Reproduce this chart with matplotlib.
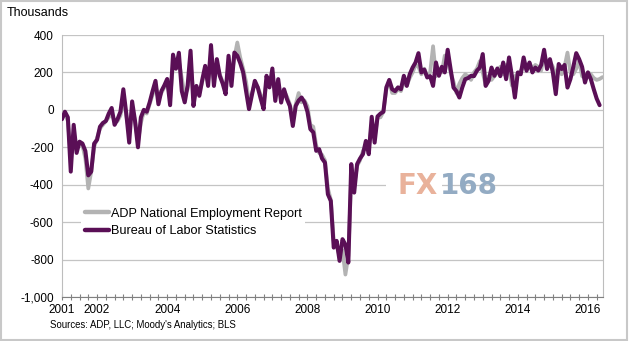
import numpy as np
import matplotlib
matplotlib.use("Agg")
import matplotlib.pyplot as plt
from matplotlib.patches import Rectangle
from matplotlib.ticker import FuncFormatter, MultipleLocator

plt.rcParams["font.family"] = ["Liberation Sans", "DejaVu Sans"]

# Monthly job changes (thousands), starting Jan 2001
bls = [
    -50, -10, -40, -330, -80, -230, -170, -180, -220, -350, -330, -180,
    -160, -90, -70, -60, -20, 10, -80, -50, -10, 110, -20, -175,
    45, -60, -200, -40, 0, -10, 40, 100, 155, 30, 100, 130,
    165, 25, 295, 220, 305, 100, 40, 130, 316, 21, 128, 75,
    160, 235, 128, 346, 128, 271, 182, 140, 84, 289, 128, 306,
    289, 250, 200, 100, 4, 80, 155, 120, 60, 4, 182, 120,
    221, 48, 164, 39, 110, 57, 20, -86, 21, 50, 66, 40,
    -10, -103, -120, -219, -210, -260, -282, -451, -487, -736, -700, -807,
    -691, -720, -816, -290, -442, -290, -260, -237, -166, -237, -37, -175,
    -35, -20, -10, 120, 160, 110, 100, 120, 110, 182, 128, 190,
    226, 253, 303, 200, 215, 173, 180, 128, 253, 182, 230, 200,
    321, 218, 119, 100, 66, 120, 164, 170, 182, 180, 209, 226,
    298, 128, 155, 226, 182, 221, 180, 253, 164, 280, 180, 66,
    200, 190, 280, 209, 253, 200, 226, 210, 240, 321, 218, 271,
    200, 84, 245, 218, 240, 119, 164, 230, 303, 271, 230, 146,
    200, 164, 110, 60, 25,
]
adp = [
    -40, -20, -60, -240, -130, -190, -180, -190, -260, -420, -330, -200,
    -150, -100, -80, -60, -40, -20, -60, -60, -30, 60, -30, -120,
    10, -60, -170, -70, -10, -20, 30, 80, 130, 60, 90, 120,
    150, 60, 240, 230, 260, 170, 80, 110, 250, 80, 120, 90,
    150, 210, 150, 300, 160, 240, 190, 150, 110, 240, 180, 280,
    360, 280, 220, 150, 40, 90, 140, 120, 80, 40, 150, 140,
    190, 90, 140, 70, 100, 70, 30, -40, 30, 90, 40, 50,
    20, -80, -90, -190, -230, -240, -270, -420, -480, -700, -730, -780,
    -750, -880, -780, -360, -400, -300, -270, -220, -190, -200, -80, -150,
    -40, -40, -10, 110, 150, 90, 90, 110, 100, 150, 130, 170,
    200, 240, 230, 190, 220, 180, 200, 340, 180, 220, 200, 290,
    260, 200, 150, 90, 140, 170, 190, 180, 160, 200, 220, 260,
    200, 130, 180, 160, 180, 200, 230, 190, 240, 220, 130, 180,
    190, 210, 230, 220, 250, 220, 240, 230, 210, 300, 240, 260,
    230, 190, 220, 190, 230, 306, 200, 190, 220, 260, 180, 170,
    200, 190, 170, 160, 165, 175,
]
year_labels = ["2001", "2002", "2004", "2006", "2008", "2010", "2012", "2014", "2016"]

x_bls = 2001 + np.arange(len(bls)) / 12
x_adp = 2001 + np.arange(len(adp)) / 12

fig = plt.figure(figsize=(6.3, 3.41), dpi=100)
ax = fig.add_axes([62 / 630, 1 - 297 / 341, 541 / 630, 262 / 341])

ax.plot(x_adp, adp, color="#b3b3b3", lw=2.7, label="ADP National Employment Report",
        solid_capstyle="round", solid_joinstyle="round", zorder=3)
ax.plot(x_bls, bls, color="#5a0f56", lw=2.9, label="Bureau of Labor Statistics",
        solid_capstyle="round", solid_joinstyle="round", zorder=4)

ax.set_xlim(2001, 2016.43)
ax.set_ylim(-1000, 400)
ax.yaxis.set_major_locator(MultipleLocator(200))
ax.yaxis.set_major_formatter(FuncFormatter(lambda v, p: f"{int(v):,}"))
ax.grid(axis="y", color="#c4c4c4", lw=0.9)
ax.set_axisbelow(True)

ax.set_xticks([float(y) for y in year_labels])
ax.set_xticklabels(year_labels)
ax.set_xticks(2001 + np.arange(0, 62) * 0.25, minor=True)
ax.tick_params(axis="x", which="both", direction="inout", length=4, width=0.8,
               color="#808080", labelsize=8.5, pad=3)
ax.tick_params(axis="y", length=0, labelsize=8.5, pad=6)

for side in ["left", "right"]:
    ax.spines[side].set_color("#bdbdbd")
ax.spines["top"].set_visible(False)
ax.spines["bottom"].set_color("#808080")

leg = ax.legend(loc="upper left", bbox_to_anchor=(81 / 630, 1 - 204 / 341),
                bbox_transform=fig.transFigure, fontsize=9.1, frameon=True,
                facecolor="white", edgecolor="none", framealpha=1,
                handlelength=1.9, handletextpad=0.15, borderpad=0.3,
                labelspacing=0.45, borderaxespad=0)
leg.set_zorder(5)
for h in leg.get_lines():
    h.set_linewidth(3.2)

fig.text(7 / 630, 1 - 13 / 341, "Thousands", fontsize=9, va="center", ha="left")
fig.text(50 / 630, 1 - 325 / 341, "Sources: ADP, LLC; Moody's Analytics; BLS",
         fontsize=6.9, va="center", ha="left")

# watermark
fig.text(392 / 630, 1 - 186 / 341, "     ", fontsize=20, va="center", ha="left",
         bbox=dict(facecolor="white", edgecolor="none", pad=4), family="DejaVu Sans")
fig.text(397 / 630, 1 - 186 / 341, "FX", fontsize=20, fontweight="bold",
         color="#e9b29b", va="center", ha="left", family="DejaVu Sans")
fig.text(440 / 630, 1 - 186 / 341, "168", fontsize=20, fontweight="bold",
         color="#93abc3", va="center", ha="left", family="DejaVu Sans")

fig.patches.append(Rectangle((0.002, 0.003), 0.994, 0.994, transform=fig.transFigure,
                             fill=False, edgecolor="#c8c8c8", lw=1.5))

fig.savefig("out.png", dpi=100)
